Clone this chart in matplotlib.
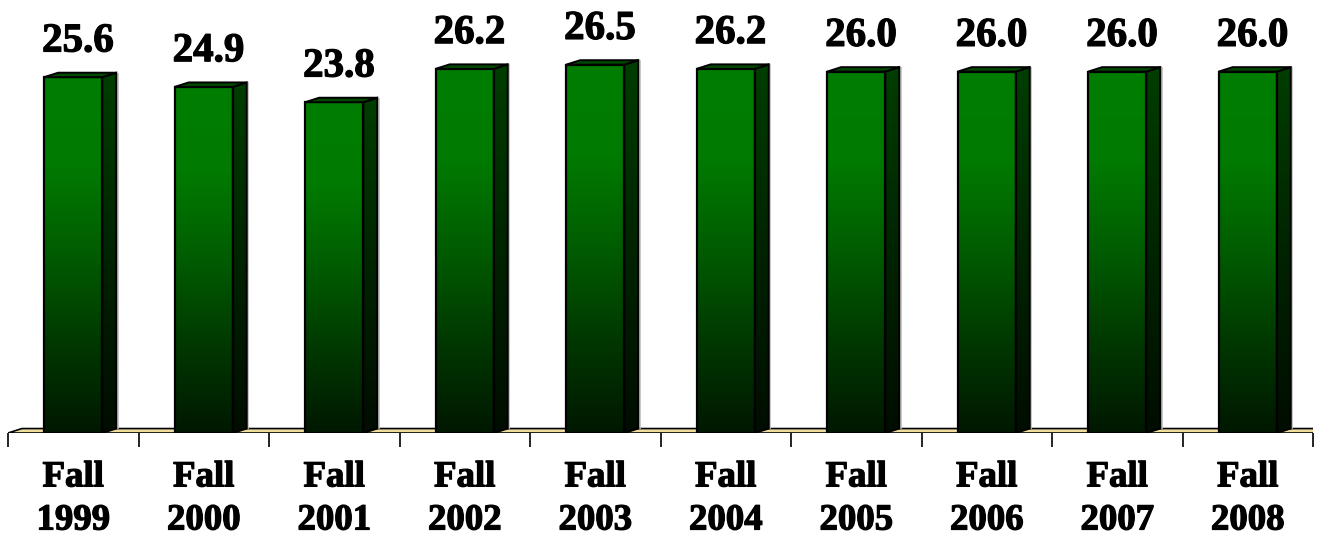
import numpy as np
import matplotlib
matplotlib.use("Agg")
import matplotlib.pyplot as plt
import matplotlib.patheffects as pe
from matplotlib.patches import Polygon
from matplotlib.colors import LinearSegmentedColormap

# Average class size by fall term
years = ["1999", "2000", "2001", "2002", "2003", "2004", "2005", "2006", "2007", "2008"]
values = [25.6, 24.9, 23.8, 26.2, 26.5, 26.2, 26.0, 26.0, 26.0, 26.0]
categories = [f"Fall\n{y}" for y in years]

plt.rcParams["font.family"] = ["Liberation Serif", "DejaVu Serif"]
plt.rcParams["font.weight"] = "bold"

fig = plt.figure(figsize=(13.3, 5.36), dpi=100)
ax = fig.add_axes([8 / 1330, 103 / 536, 1305 / 1330, 417 / 536])

front_cmap = LinearSegmentedColormap.from_list(
    "front", ["#001800", "#003800", "#005C00", "#007A00", "#007E00"])
side_cmap = LinearSegmentedColormap.from_list(
    "side", ["#000D00", "#002400", "#003E00"])
grad = np.linspace(0, 1, 256).reshape(-1, 1)

bar_w = 0.445   # front face width (category units)
dx, dy = 0.107, 0.32  # depth offset of the 3-D extrusion
n = len(values)
heavy = [pe.withStroke(linewidth=0.9, foreground="black")]

# floor plate
floor = Polygon([(-0.5, 0), (n - 0.5, 0), (n - 0.5 + dx, dy), (-0.5 + dx, dy)],
                closed=True, fc="#EFDD9C", ec="black", lw=1.2, zorder=1)
ax.add_patch(floor)

for i, v in enumerate(values):
    x0, x1 = i - bar_w / 2, i + bar_w / 2
    # front face
    ax.imshow(grad, extent=(x0, x1, 0, v), origin="lower", cmap=front_cmap,
              aspect="auto", zorder=3, interpolation="bilinear")
    ax.add_patch(Polygon([(x0, 0), (x1, 0), (x1, v), (x0, v)], closed=True,
                         fill=False, ec="black", lw=1.6, zorder=4))
    # side face
    side = Polygon([(x1, 0), (x1 + dx, dy), (x1 + dx, v + dy), (x1, v)],
                   closed=True, fc="none", ec="black", lw=1.4, zorder=4)
    ax.add_patch(side)
    im = ax.imshow(grad, extent=(x1, x1 + dx, 0, v + dy), origin="lower",
                   cmap=side_cmap, aspect="auto", zorder=3,
                   interpolation="bilinear")
    im.set_clip_path(side)
    ax.plot([x1 + dx + 0.012] * 2, [dy, v + dy], color="#BDBDBD", lw=1.2,
            zorder=2, solid_capstyle="butt")
    # top face
    ax.add_patch(Polygon([(x0, v), (x1, v), (x1 + dx, v + dy), (x0 + dx, v + dy)],
                         closed=True, fc="#004A00", ec="black", lw=1.4, zorder=4))
    # value label
    ax.text(i + dx / 3, v + 1.85, f"{v:.1f}", ha="center", va="baseline",
            fontsize=29.5, fontweight="bold", color="black", zorder=5,
            path_effects=heavy)

ax.set_xlim(-0.5, n - 0.5)
ax.set_ylim(0, 30)

ax.set_xticks(np.arange(n))
ax.set_xticklabels(categories, fontsize=26.5, fontweight="bold", linespacing=1.3)
for lbl in ax.get_xticklabels():
    lbl.set_path_effects(heavy)
ax.set_xticks(np.arange(-0.5, n, 1), minor=True)
ax.tick_params(axis="x", which="major", length=0, pad=19)
ax.tick_params(axis="x", which="minor", length=10, width=1.2, color="black")
ax.set_yticks([])
for s in ax.spines.values():
    s.set_visible(False)

fig.savefig("out.png", dpi=100)
